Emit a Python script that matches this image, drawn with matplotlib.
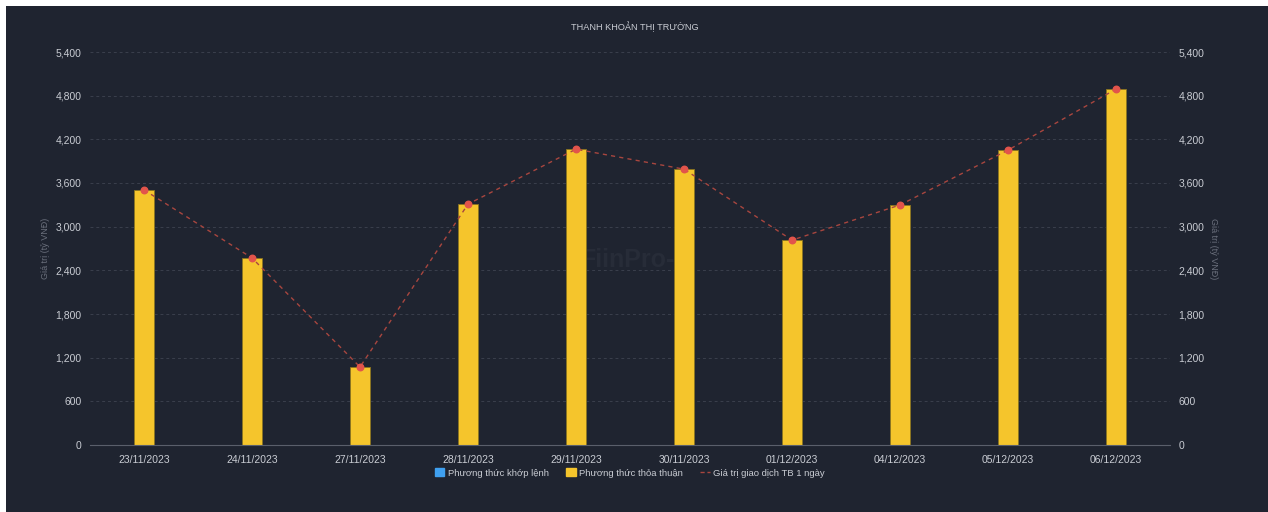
import matplotlib
matplotlib.use("Agg")
import matplotlib.pyplot as plt
import matplotlib.patches as mpatches
from matplotlib.lines import Line2D
import numpy as np

plt.rcParams['font.family'] = ['Liberation Sans', 'DejaVu Sans']

dates = ["23/11/2023", "24/11/2023", "27/11/2023", "28/11/2023", "29/11/2023",
         "30/11/2023", "01/12/2023", "04/12/2023", "05/12/2023", "06/12/2023"]
khop_lenh = [0, 0, 0, 0, 0, 0, 0, 0, 0, 0]
thoa_thuan = [3505, 2570, 1072, 3310, 4065, 3790, 2815, 3298, 4052, 4890]
tb_1_ngay = [3505, 2570, 1072, 3310, 4065, 3790, 2815, 3298, 4052, 4890]
yticks = [0, 600, 1200, 1800, 2400, 3000, 3600, 4200, 4800, 5400]

bg = '#1f2430'
txt = '#c9ccd3'
dim = '#6a6f7c'

fig = plt.figure(figsize=(12.68, 5.12), dpi=100)
fig.patch.set_facecolor('white')
# dark panel (leaves a thin white strip on top and left)
fig.add_artist(mpatches.Rectangle((6 / 1268, 0), 1 - 6 / 1268, 1 - 6 / 512,
                                  transform=fig.transFigure, facecolor=bg,
                                  edgecolor='none', zorder=0))

ax = fig.add_axes([90 / 1268, 1 - 445 / 512, 1080 / 1268, 393 / 512])
ax.set_facecolor('none')
x = np.arange(len(dates))
w = 0.185

# faint watermark behind the bars
ax.text(0.505, 0.47, "FiinPro-X", transform=ax.transAxes, color='#272c38',
        fontsize=18, ha='center', va='center', fontweight='bold', zorder=0.5)

ax.bar(x, khop_lenh, width=w, color='#3fa0f0', zorder=2)
ax.bar(x, thoa_thuan, width=w, bottom=khop_lenh, color='#f5c52c',
       edgecolor='#8a7420', linewidth=0.6, zorder=2)

ax2 = ax.twinx()
ax2.plot(x, tb_1_ngay, color='#a8463f', linestyle=(0, (3, 3)), linewidth=1,
         zorder=3)
ax2.scatter(x, tb_1_ngay, s=22, color='#e2544b', zorder=4)

for a in (ax, ax2):
    a.set_ylim(0, 5400)
    a.set_yticks(yticks)
    a.set_yticklabels([f"{v:,}" for v in yticks])
    a.tick_params(axis='y', length=0, colors=txt, labelsize=7.5, pad=6)
    for s in a.spines.values():
        s.set_visible(False)
ax.set_xlim(-0.5, len(dates) - 0.5)
ax.set_xticks(x)
ax.set_xticklabels(dates)
ax.tick_params(axis='x', length=0, colors=txt, labelsize=7.5, pad=7)
ax.spines['bottom'].set_visible(True)
ax.spines['bottom'].set_color('#5a5f6b')
ax.grid(axis='y', color='#3a3f4c', linestyle=(0, (3, 3)), linewidth=0.7, zorder=1)
ax.set_axisbelow(True)

ax.set_ylabel("Giá trị (tỷ VNĐ)", color=dim, fontsize=6.5, labelpad=4)
ax2.set_ylabel("Giá trị (tỷ VNĐ)", color=dim, fontsize=6.5, rotation=270,
               labelpad=10)

fig.text(635 / 1268, 1 - 27 / 512, "THANH KHOẢN THỊ TRƯỜNG", color=txt,
         fontsize=6.6, ha='center', va='center')

handles = [
    mpatches.Patch(color='#3fa0f0', label='Phương thức khớp lệnh'),
    mpatches.Patch(color='#f5c52c', label='Phương thức thỏa thuận'),
    Line2D([], [], color='#a8463f', linestyle=(0, (3, 2)), linewidth=1,
           label='Giá trị giao dịch TB 1 ngày'),
]
leg = fig.legend(handles=handles, loc='center', ncol=3,
                 bbox_to_anchor=(630 / 1268, 1 - 473 / 512), frameon=False,
                 fontsize=6.8, handlelength=1.0, handleheight=0.9,
                 columnspacing=1.8, handletextpad=0.4)
for t in leg.get_texts():
    t.set_color(txt)

fig.savefig("out.png", dpi=100, facecolor=fig.get_facecolor())
